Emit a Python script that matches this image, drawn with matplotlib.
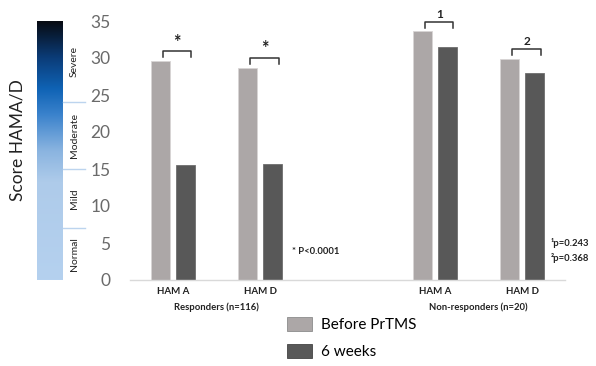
import matplotlib
matplotlib.use("Agg")
import matplotlib.pyplot as plt
import numpy as np
from matplotlib.colors import LinearSegmentedColormap
from matplotlib.patches import Patch

plt.rcParams['font.family'] = ['Lato', 'DejaVu Sans']

# data
groups = ["Responders (n=116)", "Non-responders (n=20)"]
scales = ["HAM A", "HAM D", "HAM A", "HAM D"]
before = [29.6, 28.7, 33.6, 29.9]
after = [15.6, 15.7, 31.5, 28.0]
marks = ["*", "*", "1", "2"]
series = ["Before PrTMS", "6 weeks"]
severity = ["Normal", "Mild", "Moderate", "Severe"]
severity_cuts = [0, 7, 15, 24, 35]
yticks = [0, 5, 10, 15, 20, 25, 30, 35]

c_before = "#aca7a7"
c_after = "#585858"
txt = "#6a6a6a"

W, H = 596, 366
fig = plt.figure(figsize=(W / 100, H / 100), dpi=100)

def frac(x0, y0, x1, y1):
    return [x0 / W, 1 - y1 / H, (x1 - x0) / W, (y1 - y0) / H]

ax = fig.add_axes(frac(130, 21, 565, 280))
xpos = np.array([0, 1, 3, 4])
bw = 0.22
off = 0.143
ax.bar(xpos - off, before, bw, color=c_before, edgecolor="#d8d5d5", linewidth=0.6)
ax.bar(xpos + off, after, bw, color=c_after, edgecolor="#6e6e6e", linewidth=0.6)

ax.set_xlim(-0.49, 4.49)
ax.set_ylim(0, 35)
for s in ["top", "right", "left"]:
    ax.spines[s].set_visible(False)
ax.spines["bottom"].set_color("#d9d9d9")
ax.spines["bottom"].set_linewidth(1)
ax.set_yticks(yticks)
ax.tick_params(axis="y", length=0, pad=14, labelsize=12.5, labelcolor=txt)
ax.set_xticks(xpos)
ax.set_xticklabels(scales, fontsize=7, fontweight="bold", color="#222222")
ax.tick_params(axis="x", length=0, pad=5)

# significance brackets
for xb, b, a, m in zip(xpos, before, after, marks):
    top = max(b, a) + 1.3
    x0, x1 = xb - off + 0.03, xb + off + 0.07
    ax.plot([x0, x0, x1, x1], [top - 0.8, top, top, top - 0.8], color="#333333",
            lw=1.1, clip_on=False, solid_joinstyle="round")
    if m == "*":
        ax.text((x0 + x1) / 2, top + 0.1, m, ha="center", va="bottom", fontsize=13,
                fontweight="bold", color="#222222", clip_on=False)
    else:
        ax.text((x0 + x1) / 2, top + 0.3, m, ha="center", va="bottom", fontsize=8.5,
                fontweight="bold", color="#222222", clip_on=False)

xt = ax.get_xaxis_transform()
ax.text(0.5, -0.105, groups[0], transform=xt, ha="center", va="center",
        fontsize=6.8, fontweight="bold", color="#222222")
ax.text(3.5, -0.105, groups[1], transform=xt, ha="center", va="center",
        fontsize=6.8, fontweight="bold", color="#222222")

ax.text(1.37, 3.8, "* P<0.0001", ha="left", va="center", fontsize=6.8,
        fontweight="bold", color="#222222")
ax.text(4.33, 5.0, "¹p=0.243", ha="left", va="center", fontsize=6.8,
        fontweight="bold", color="#222222", clip_on=False)
ax.text(4.33, 3.0, "²p=0.368", ha="left", va="center", fontsize=6.8,
        fontweight="bold", color="#222222", clip_on=False)

# severity colour bar
cax = fig.add_axes(frac(37, 21, 90, 280))
cax.set_xlim(0, 53)
cax.set_ylim(0, 35)
cax.axis("off")
cmap = LinearSegmentedColormap.from_list("sev", [
    (0.0, "#b5d1ef"), (0.38, "#aecbea"), (0.5, "#8ab4e0"),
    (0.64, "#3a82cc"), (0.74, "#0f63b5"), (0.86, "#0b3c78"), (1.0, "#070b12")])
grad = np.linspace(0, 1, 256).reshape(-1, 1)
cax.imshow(grad, cmap=cmap, aspect="auto", origin="lower", extent=[0, 26, 0, 35])
for c in severity_cuts[1:-1]:
    cax.plot([26, 48], [c, c], color="#bcd4ee", lw=1)
for lo, hi, name in zip(severity_cuts[:-1], severity_cuts[1:], severity):
    cax.text(37, (lo + hi) / 2, name, rotation=90, ha="center", va="center",
             fontsize=7.5, color="#222222")

fig.text(18 / W, 1 - 140 / H, "Score HAMA/D", rotation=90, ha="center", va="center",
         fontsize=12.5, color="#222222")

# legend
handles = [Patch(facecolor=c_before, edgecolor="#8c8c8c", lw=0.6),
           Patch(facecolor=c_after, edgecolor="#444444", lw=0.6)]
fig.legend(handles, series, loc="upper left", bbox_to_anchor=(287 / W, 1 - 317 / H),
           frameon=False, fontsize=11, handlelength=1.65, handleheight=1.05,
           labelspacing=0.75, handletextpad=0.55, borderpad=0, borderaxespad=0)

fig.savefig("out.png", dpi=100)
